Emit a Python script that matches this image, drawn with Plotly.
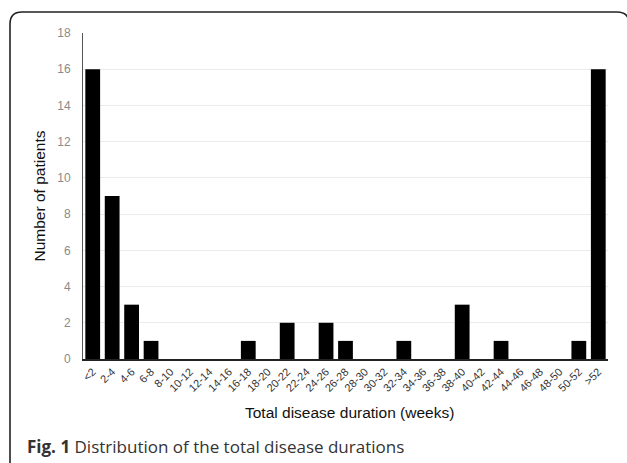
import plotly.graph_objects as go

categories = ["<2", "2-4", "4-6", "6-8", "8-10", "10-12", "12-14", "14-16", "16-18", "18-20",
              "20-22", "22-24", "24-26", "26-28", "28-30", "30-32", "32-34", "34-36", "36-38",
              "38-40", "40-42", "42-44", "44-46", "46-48", "48-50", "50-52", ">52"]
patients = [16, 9, 3, 1, 0, 0, 0, 0, 1, 0, 2, 0, 2, 1, 0, 0, 1, 0, 0, 3, 0, 1, 0, 0, 0, 1, 16]
y_ticks = [0, 2, 4, 6, 8, 10, 12, 14, 16, 18]

W, H = 627, 463
L, R, T, B = 83, 19, 33, 104
pw, ph = W - L - R, H - T - B

def px(x):
    return (x - L) / pw

def py(y):
    return (H - B - y) / ph

fig = go.Figure(go.Bar(x=categories, y=patients, marker=dict(color="black", line=dict(width=0)),
                       width=0.76))

# rounded frame around the figure
x0, y0, x1, y1, r = 10, 12, 629, 475, 12
path = (f"M {px(x0)},{py(y1)} L {px(x0)},{py(y0 + r)} "
        f"Q {px(x0)},{py(y0)} {px(x0 + r)},{py(y0)} "
        f"L {px(x1 - r)},{py(y0)} Q {px(x1)},{py(y0)} {px(x1)},{py(y0 + r)} "
        f"L {px(x1)},{py(y1)}")
fig.add_shape(type="path", path=path, xref="paper", yref="paper",
              line=dict(color="#222222", width=1.6), layer="above")

fig.update_layout(
    width=W, height=H,
    margin=dict(l=L, r=R, t=T, b=B),
    paper_bgcolor="white", plot_bgcolor="white",
    showlegend=False,
    font=dict(family="Liberation Sans, Arial, sans-serif", color="#222"),
    xaxis=dict(type="category", tickangle=-45, tickfont=dict(size=11, color="#333"),
               showline=True, linecolor="#222", linewidth=2, showgrid=False, ticks="",
               range=[-0.5, len(categories) - 0.5]),
    yaxis=dict(range=[0, 18], tickvals=y_ticks, tickfont=dict(size=12, color="#8a8a8a"),
               showgrid=True, gridcolor="#ebebeb", gridwidth=1, zeroline=False,
               showline=True, linecolor="#555", linewidth=1, ticks="", ticklen=0,
               ticklabelstandoff=9,
               title=dict(text="Number of patients", font=dict(size=15.5, color="#111"), standoff=7)),
    annotations=[
        dict(text="Total disease duration (weeks)", xref="paper", yref="paper",
             x=px(349), y=py(412), showarrow=False, xanchor="center", yanchor="middle",
             font=dict(size=15.5, color="#111", family="Liberation Sans, Arial, sans-serif")),
        dict(text="<b>Fig. 1</b> Distribution of the total disease durations", xref="paper", yref="paper",
             x=px(25), y=py(446), showarrow=False, xanchor="left", yanchor="middle",
             font=dict(size=17, color="#333", family="Open Sans, Noto Sans, sans-serif")),
    ],
)

fig.write_html("out.html", post_script="document.body.style.margin='0';",
               config={"displayModeBar": False})
